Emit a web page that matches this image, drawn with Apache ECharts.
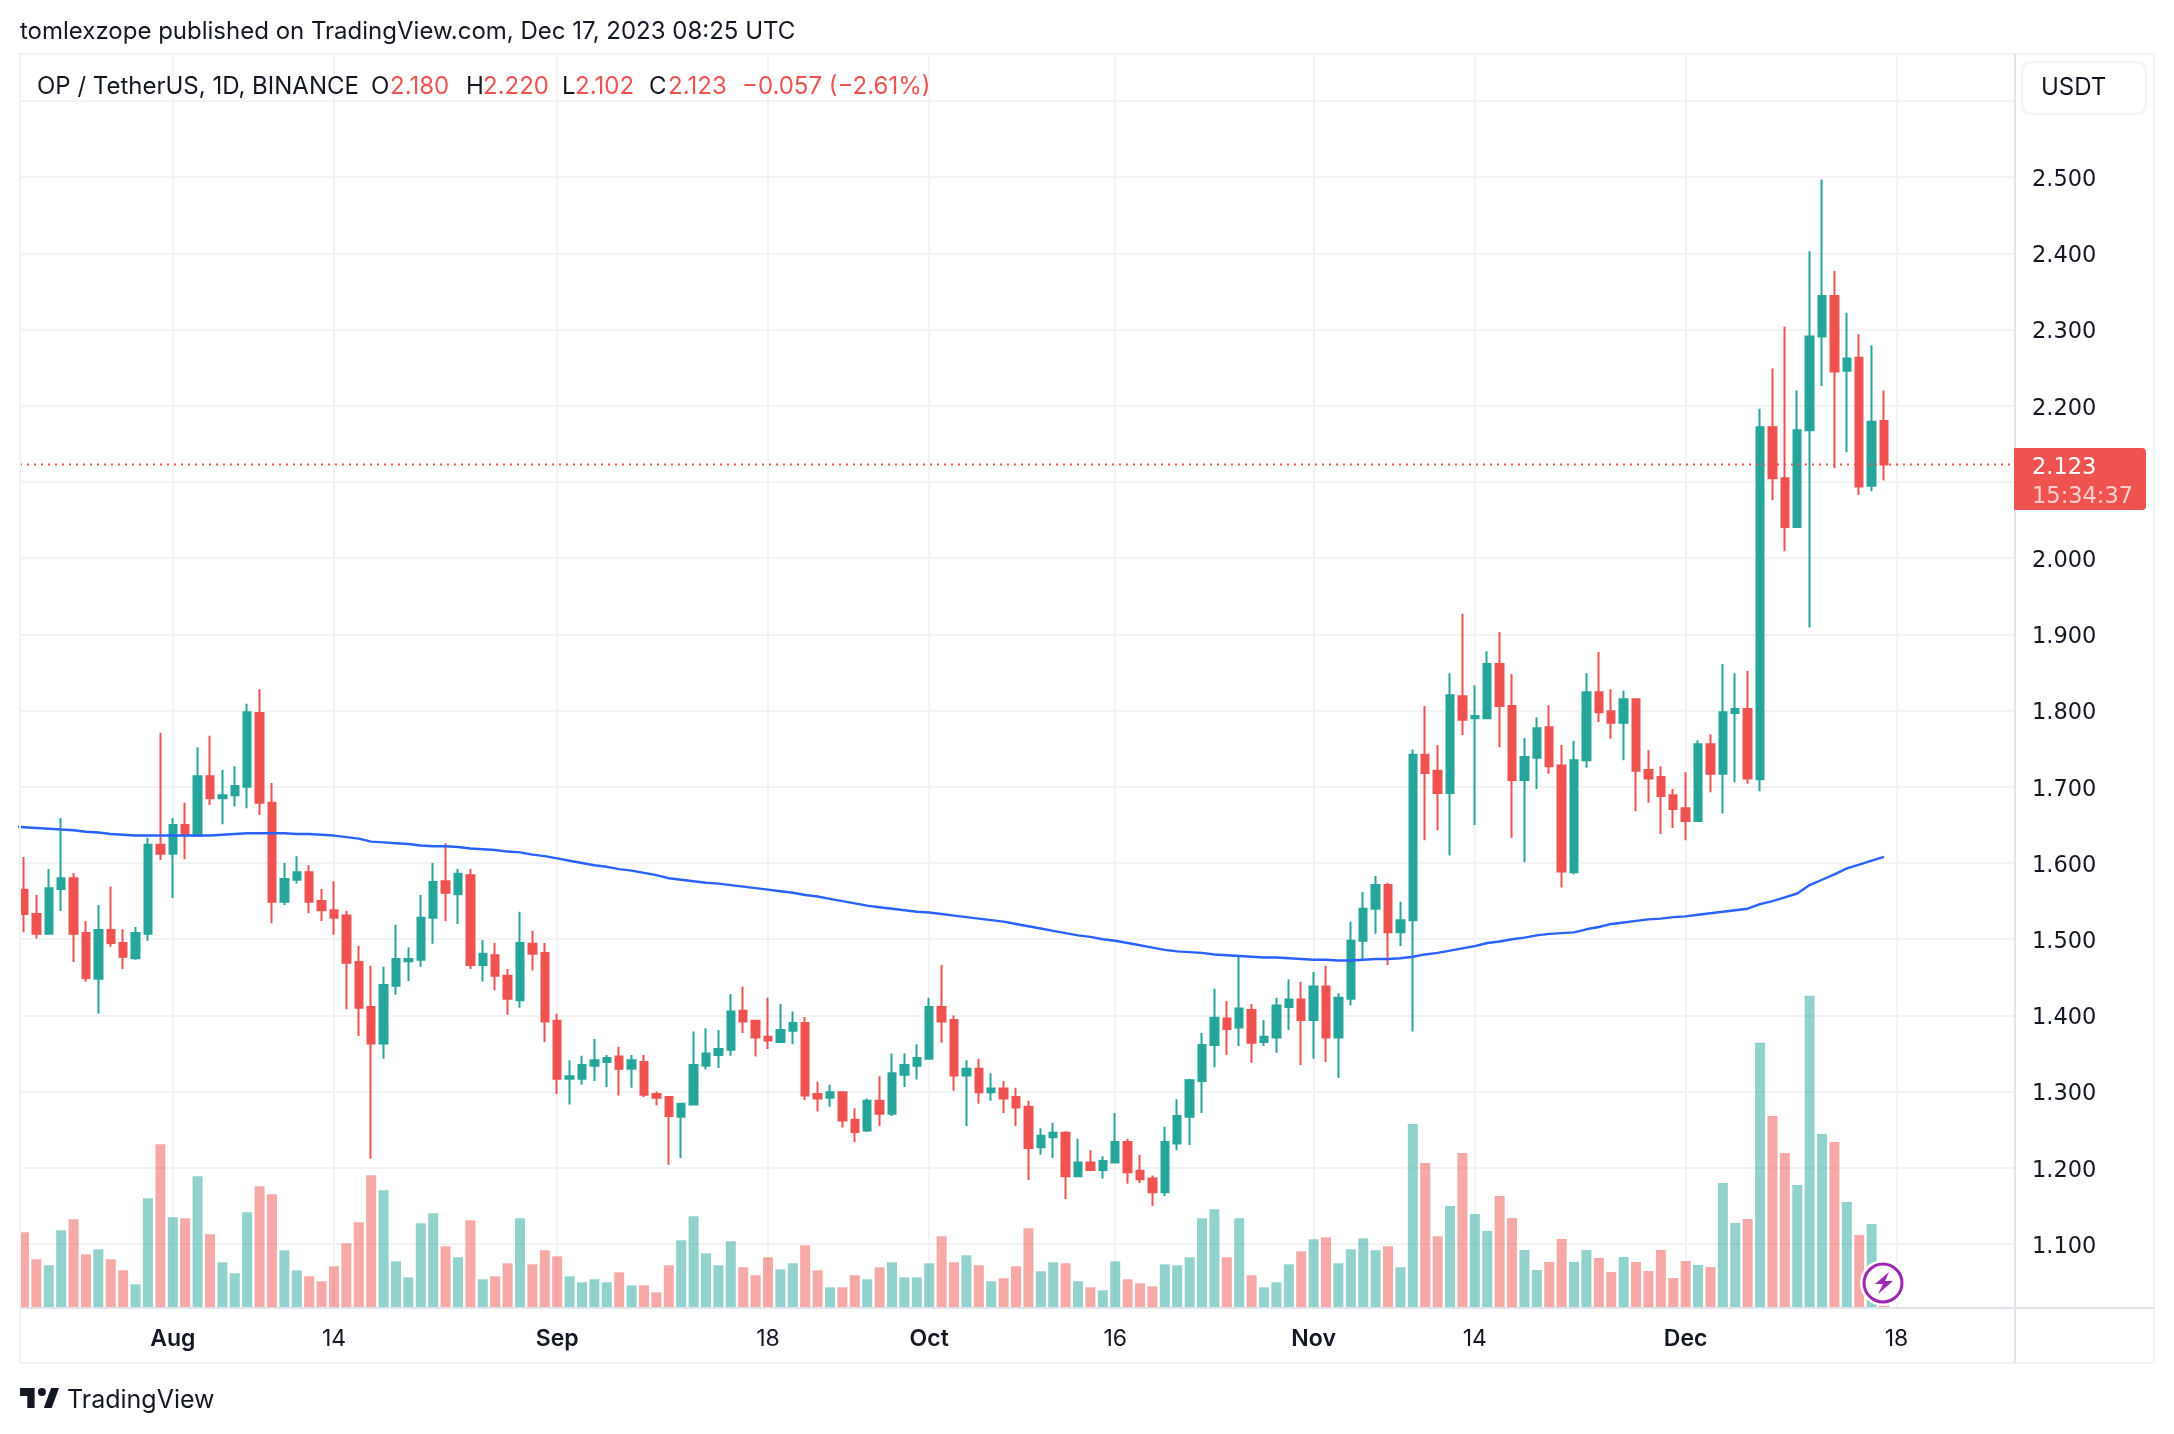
<!DOCTYPE html>
<html><head><meta charset="utf-8"><title>OP / TetherUS</title>
<style>html,body{margin:0;padding:0;background:#fff}#c{width:2174px;height:1434px}</style>
<script src="https://cdn.jsdelivr.net/npm/echarts@6/dist/echarts.min.js"></script>
</head><body><div id="c"></div>
<script>
// Daily candles, 2023-07-20 (day 0) .. 2023-12-17 (day 150)
var opens = [1.565,1.533,1.507,1.566,1.580,1.508,1.448,1.512,1.495,1.475,
1.507,1.624,1.612,1.650,1.636,1.714,1.685,1.689,1.700,1.797,
1.679,1.549,1.578,1.588,1.550,1.538,1.531,1.470,1.411,1.363,
1.439,1.471,1.473,1.528,1.576,1.559,1.584,1.466,1.479,1.452,
1.420,1.494,1.482,1.393,1.317,1.317,1.334,1.339,1.346,1.330,
1.339,1.297,1.293,1.267,1.283,1.334,1.348,1.355,1.406,1.393,
1.372,1.365,1.380,1.390,1.297,1.292,1.299,1.263,1.249,1.288,
1.271,1.322,1.334,1.343,1.411,1.394,1.321,1.330,1.299,1.304,
1.293,1.280,1.227,1.240,1.246,1.189,1.207,1.197,1.207,1.234,
1.196,1.186,1.168,1.232,1.267,1.314,1.361,1.396,1.384,1.407,
1.365,1.371,1.411,1.421,1.394,1.438,1.371,1.422,1.498,1.540,
1.571,1.509,1.525,1.742,1.721,1.692,1.819,1.790,1.790,1.861,
1.806,1.709,1.738,1.778,1.728,1.588,1.735,1.824,1.799,1.784,
1.815,1.722,1.713,1.689,1.672,1.655,1.756,1.717,1.797,1.802,
1.710,2.172,2.105,2.041,2.168,2.291,2.344,2.246,2.263,2.095,2.180];
var closes = [1.533,1.507,1.567,1.580,1.507,1.449,1.512,1.495,1.477,1.508,
1.624,1.612,1.650,1.637,1.714,1.685,1.689,1.701,1.798,1.679,
1.549,1.579,1.588,1.549,1.538,1.528,1.469,1.410,1.363,1.440,
1.474,1.474,1.528,1.575,1.561,1.586,1.466,1.481,1.452,1.422,
1.495,1.481,1.392,1.317,1.320,1.335,1.341,1.344,1.330,1.341,
1.296,1.292,1.268,1.284,1.335,1.350,1.356,1.405,1.392,1.371,
1.367,1.381,1.390,1.295,1.291,1.299,1.262,1.247,1.288,1.271,
1.324,1.335,1.344,1.411,1.392,1.321,1.330,1.299,1.304,1.291,
1.279,1.226,1.242,1.246,1.189,1.207,1.197,1.209,1.234,1.194,
1.185,1.168,1.234,1.268,1.315,1.361,1.397,1.382,1.409,1.364,
1.372,1.413,1.421,1.394,1.438,1.371,1.423,1.498,1.540,1.571,
1.509,1.525,1.742,1.718,1.692,1.820,1.788,1.793,1.861,1.806,
1.709,1.739,1.777,1.727,1.589,1.735,1.824,1.798,1.784,1.815,
1.721,1.711,1.688,1.671,1.655,1.756,1.717,1.798,1.802,1.711,
2.172,2.105,2.041,2.168,2.291,2.344,2.245,2.262,2.094,2.179,2.123];
var lows = [1.509,1.501,1.507,1.537,1.470,1.444,1.402,1.490,1.461,1.473,
1.498,1.604,1.554,1.605,1.636,1.676,1.651,1.674,1.672,1.663,
1.521,1.545,1.573,1.534,1.524,1.506,1.408,1.373,1.212,1.343,
1.427,1.445,1.464,1.494,1.524,1.520,1.461,1.444,1.433,1.401,
1.410,1.459,1.365,1.297,1.283,1.309,1.314,1.306,1.295,1.305,
1.293,1.282,1.204,1.213,1.283,1.329,1.331,1.347,1.377,1.346,
1.356,1.364,1.362,1.289,1.274,1.280,1.253,1.234,1.247,1.255,
1.268,1.306,1.316,1.343,1.364,1.301,1.255,1.284,1.288,1.272,
1.255,1.184,1.217,1.213,1.159,1.188,1.196,1.186,1.206,1.179,
1.180,1.150,1.163,1.223,1.230,1.272,1.332,1.348,1.360,1.338,
1.360,1.351,1.381,1.335,1.343,1.339,1.318,1.413,1.473,1.507,
1.466,1.491,1.379,1.630,1.643,1.610,1.768,1.650,1.790,1.752,
1.633,1.601,1.697,1.717,1.568,1.585,1.725,1.785,1.763,1.735,
1.668,1.679,1.638,1.646,1.630,1.654,1.693,1.665,1.706,1.704,
1.694,2.076,2.009,2.041,1.909,2.226,2.118,2.139,2.083,2.088,2.102];
var highs = [1.608,1.558,1.592,1.659,1.587,1.524,1.545,1.569,1.513,1.516,
1.633,1.771,1.659,1.679,1.752,1.767,1.722,1.727,1.809,1.828,
1.705,1.600,1.609,1.597,1.566,1.576,1.537,1.491,1.465,1.464,
1.519,1.489,1.558,1.600,1.626,1.592,1.592,1.499,1.495,1.461,
1.536,1.511,1.495,1.402,1.341,1.347,1.369,1.348,1.359,1.348,
1.348,1.300,1.293,1.285,1.379,1.383,1.381,1.428,1.438,1.394,
1.423,1.415,1.405,1.398,1.313,1.309,1.300,1.278,1.291,1.320,
1.350,1.350,1.362,1.423,1.466,1.400,1.341,1.343,1.324,1.314,
1.305,1.288,1.252,1.259,1.248,1.238,1.223,1.215,1.272,1.238,
1.217,1.190,1.254,1.290,1.317,1.377,1.435,1.419,1.479,1.415,
1.394,1.423,1.447,1.444,1.457,1.465,1.429,1.523,1.562,1.583,
1.574,1.549,1.749,1.806,1.755,1.849,1.927,1.833,1.878,1.903,
1.848,1.764,1.791,1.807,1.755,1.760,1.849,1.877,1.828,1.826,
1.815,1.748,1.727,1.697,1.719,1.761,1.769,1.861,1.849,1.852,
2.196,2.249,2.304,2.220,2.403,2.497,2.377,2.322,2.294,2.279,2.220];
// Volume in millions (estimated bar heights)
var volumes = [2.27,1.46,1.28,2.33,2.66,1.61,1.76,1.46,1.13,0.71,
3.29,4.91,2.72,2.69,3.95,2.21,1.37,1.04,2.87,3.65,
3.41,1.73,1.13,0.95,0.80,1.25,1.94,2.57,3.98,3.53,
1.40,0.92,2.54,2.84,1.85,1.52,2.63,0.86,0.95,1.34,
2.69,1.31,1.73,1.55,0.95,0.77,0.86,0.77,1.07,0.68,
0.68,0.47,1.28,2.03,2.75,1.64,1.28,2.00,1.22,0.98,
1.52,1.16,1.34,1.88,1.13,0.62,0.62,0.98,0.86,1.22,
1.37,0.92,0.92,1.34,2.15,1.37,1.58,1.28,0.80,0.89,
1.25,2.39,1.10,1.37,1.34,0.80,0.62,0.53,1.40,0.86,
0.74,0.65,1.31,1.28,1.52,2.69,2.96,1.52,2.69,0.98,
0.62,0.77,1.31,1.70,2.06,2.12,1.34,1.76,2.09,1.73,
1.85,1.22,5.52,4.35,2.15,3.06,4.65,2.82,2.31,3.36,
2.70,1.74,1.14,1.38,2.07,1.38,1.74,1.50,1.08,1.53,
1.38,1.11,1.74,0.90,1.41,1.29,1.23,3.75,2.55,2.67,
7.95,5.76,4.65,3.69,9.36,5.22,4.98,3.18,2.19,2.52,0.70];
// Moving average line, per day (day -1 runs off the left edge of the pane)
var maDayBefore = 1.648;
var maLine = [1.647,1.646,1.645,1.644,1.643,1.641,1.640,1.638,1.637,1.636,
1.636,1.636,1.636,1.636,1.636,1.636,1.637,1.638,1.639,1.639,
1.639,1.639,1.638,1.638,1.637,1.636,1.634,1.632,1.628,1.627,
1.626,1.625,1.623,1.622,1.622,1.621,1.619,1.618,1.617,1.615,
1.614,1.611,1.609,1.606,1.603,1.600,1.597,1.595,1.592,1.590,
1.587,1.584,1.580,1.578,1.576,1.574,1.573,1.571,1.569,1.567,
1.565,1.563,1.561,1.558,1.556,1.553,1.550,1.547,1.544,1.542,
1.540,1.538,1.536,1.535,1.533,1.531,1.529,1.527,1.525,1.523,
1.520,1.517,1.514,1.511,1.508,1.505,1.503,1.500,1.498,1.495,
1.492,1.489,1.486,1.484,1.483,1.482,1.480,1.479,1.478,1.477,
1.476,1.476,1.475,1.474,1.473,1.473,1.472,1.472,1.473,1.474,
1.474,1.475,1.477,1.480,1.482,1.485,1.488,1.491,1.495,1.497,
1.500,1.502,1.505,1.507,1.508,1.509,1.513,1.516,1.520,1.522,
1.524,1.526,1.527,1.529,1.530,1.532,1.534,1.536,1.538,1.540,
1.546,1.550,1.555,1.560,1.571,1.578,1.585,1.593,1.598,1.603,1.608];
var priceGrid = [1.1,1.2,1.3,1.4,1.5,1.6,1.7,1.8,1.9,2.0,2.1,2.2,2.3,2.4,2.5,2.6];
var priceLabels = [1.1,1.2,1.3,1.4,1.5,1.6,1.7,1.8,1.9,2.0,2.2,2.3,2.4,2.5];
// Day offsets from 2023-07-20 of the time-scale labels
var tickDays = [12,25,43,60,73,88,104,117,134,151];
var tickNames = ['Aug','14','Sep','18','Oct','16','Nov','14','Dec','18'];
var lastPrice = 2.123;

var UP = '#26a69a', DOWN = '#ef5350', INK = '#131722', FONT = 'Inter, Roboto, sans-serif', NUMFONT = '"DejaVu Sans", sans-serif', GRID = '#f3f3f4';
var X_MIN = -0.32, X_MAX = 160.56;

var candleData = opens.map(function(o,i){ return [i, o, closes[i], lows[i], highs[i]]; });
var volumeData = volumes.map(function(v,i){ return [i, v]; });
var maData = [[-1, maDayBefore]].concat(maLine.map(function(v,i){ return [i, v]; }));

function label(x, y, text, color, size, family){
  return {type:'text', z:100, silent:true, style:{x:x, y:y, text:text, fill:color||INK,
    font:'400 '+(size||23)+'px '+(family||FONT), verticalAlign:'middle', align:'left'}};
}

var chart = echarts.init(document.getElementById('c'), null, {renderer:'canvas', width:2174, height:1434});
chart.setOption({
  animation:false, backgroundColor:'#ffffff',
  grid:{left:20, right:159, top:54, bottom:126, containLabel:false},
  xAxis:{type:'value', min:X_MIN, max:X_MAX, scale:true,
    axisLine:{show:true, onZero:false, lineStyle:{color:'#e0e3eb', width:2}}, axisTick:{show:false, customValues:tickDays},
    splitLine:{show:true, lineStyle:{color:GRID, width:2}},
    axisLabel:{customValues:tickDays, margin:20, hideOverlap:false, showMinLabel:true, showMaxLabel:true,
      formatter:function(v){ var s=tickNames[tickDays.indexOf(v)]||''; return /^[A-Z]/.test(s) ? '{m|'+s+'}' : '{d|'+s+'}'; },
      rich:{m:{fontFamily:FONT,fontSize:23,fontWeight:600,color:INK}, d:{fontFamily:FONT,fontSize:23,fontWeight:400,color:INK}}}},
  yAxis:[
    {type:'value', position:'right', min:1.016, max:2.6617, scale:true,
     axisLine:{show:true, onZero:false, lineStyle:{color:'#e0e3eb', width:2}}, axisTick:{show:false, customValues:priceGrid},
     splitLine:{show:true, lineStyle:{color:GRID, width:2}},
     axisLabel:{customValues:priceLabels, margin:17, showMinLabel:true, showMaxLabel:true, hideOverlap:false,
       formatter:function(v){ return '{p|'+v.toFixed(3)+'}'; },
       rich:{p:{color:INK, fontFamily:NUMFONT, fontSize:22.5, padding:[6,0,0,0]}}}},
    {type:'value', show:false, min:0, max:37.6, splitLine:{show:false}}
  ],
  series:[
    {name:'Volume', type:'bar', xAxisIndex:0, yAxisIndex:1, barWidth:10, data:volumeData,
     itemStyle:{color:function(p){ return closes[p.dataIndex]>=opens[p.dataIndex] ? 'rgba(38,166,154,0.5)' : 'rgba(239,83,80,0.5)'; }}},
    {name:'OP / TetherUS', type:'candlestick', xAxisIndex:0, yAxisIndex:0, barWidth:8, data:candleData, encode:{x:0,y:[1,2,3,4]},
     itemStyle:{color:UP, color0:DOWN, borderColor:UP, borderColor0:DOWN, borderWidth:2}},
    {name:'MA', type:'line', xAxisIndex:0, yAxisIndex:0, data:maData, showSymbol:false, symbol:'none', clip:true,
     lineStyle:{color:'#2962ff', width:2.4}, z:3},
    {name:'Last price', type:'line', xAxisIndex:0, yAxisIndex:0, data:[[X_MIN,lastPrice],[X_MAX,lastPrice]], showSymbol:false, symbol:'none',
     lineStyle:{color:DOWN, type:[2,5], width:2}, z:4}
  ],
  graphic:[
    {type:'rect', z:90, silent:true, shape:{x:20,y:54,width:2134,height:1309}, style:{fill:'none', stroke:'#f0f3fa', lineWidth:2}},
    {type:'line', z:91, silent:true, shape:{x1:2015,y1:54,x2:2015,y2:1363}, style:{stroke:'#e0e3eb', lineWidth:2}},
    {type:'line', z:91, silent:true, shape:{x1:20,y1:1308,x2:2154,y2:1308}, style:{stroke:'#e0e3eb', lineWidth:2}},
    label(20,32,'tomlexzope published on TradingView.com, Dec 17, 2023 08:25 UTC',INK,24),
    label(37,87,'OP / TetherUS, 1D, BINANCE',INK,24),
    label(371,87,'O',INK,24), label(390,87,'2.180',DOWN,24),
    label(466,87,'H',INK,24), label(483,87,'2.220',DOWN,24),
    label(562,87,'L',INK,24), label(575,87,'2.102',DOWN,24),
    label(649,87,'C',INK,24), label(668,87,'2.123',DOWN,24),
    label(742,87,'\u22120.057 (\u22122.61%)',DOWN,24),
    {type:'rect', z:95, silent:true, shape:{x:2022,y:62,width:124,height:52,r:10}, style:{fill:'#fff', stroke:'#f0f3fa', lineWidth:2}},
    label(2041,88,'USDT',INK,24),
    {type:'rect', z:95, silent:true, shape:{x:2014,y:448,width:132,height:62,r:[0,4,4,0]}, style:{fill:DOWN}},
    label(2032,468,'2.123','#ffffff',22.5,NUMFONT),
    label(2032,497,'15:34:37','rgba(255,255,255,0.72)',22.5,NUMFONT),
    {type:'polygon', z:100, silent:true, shape:{points:[[20,1388],[34.6,1388],[34.6,1408],[27.3,1408],[27.3,1396],[20,1396]]}, style:{fill:INK}},
    {type:'polygon', z:100, silent:true, shape:{points:[[51.1,1388],[59,1388],[51.7,1408],[43.8,1408]]}, style:{fill:INK}},
    {type:'circle', z:100, silent:true, shape:{cx:41.9,cy:1392,r:4}, style:{fill:INK}},
    label(67,1400,'TradingView',INK,25),
    {type:'circle', z:96, silent:true, shape:{cx:1883,cy:1283,r:21}, style:{fill:'#fff', stroke:'#fff', lineWidth:4}},
    {type:'circle', z:97, silent:true, shape:{cx:1883,cy:1283,r:19}, style:{fill:'#fff', stroke:'#9c27b0', lineWidth:3}},
    {type:'polygon', z:98, silent:true, shape:{points:[[1889,1272],[1875,1284],[1883,1284],[1878,1294],[1893,1281],[1885,1281]]}, style:{fill:'#9c27b0'}}
  ]
});
</script></body></html>
